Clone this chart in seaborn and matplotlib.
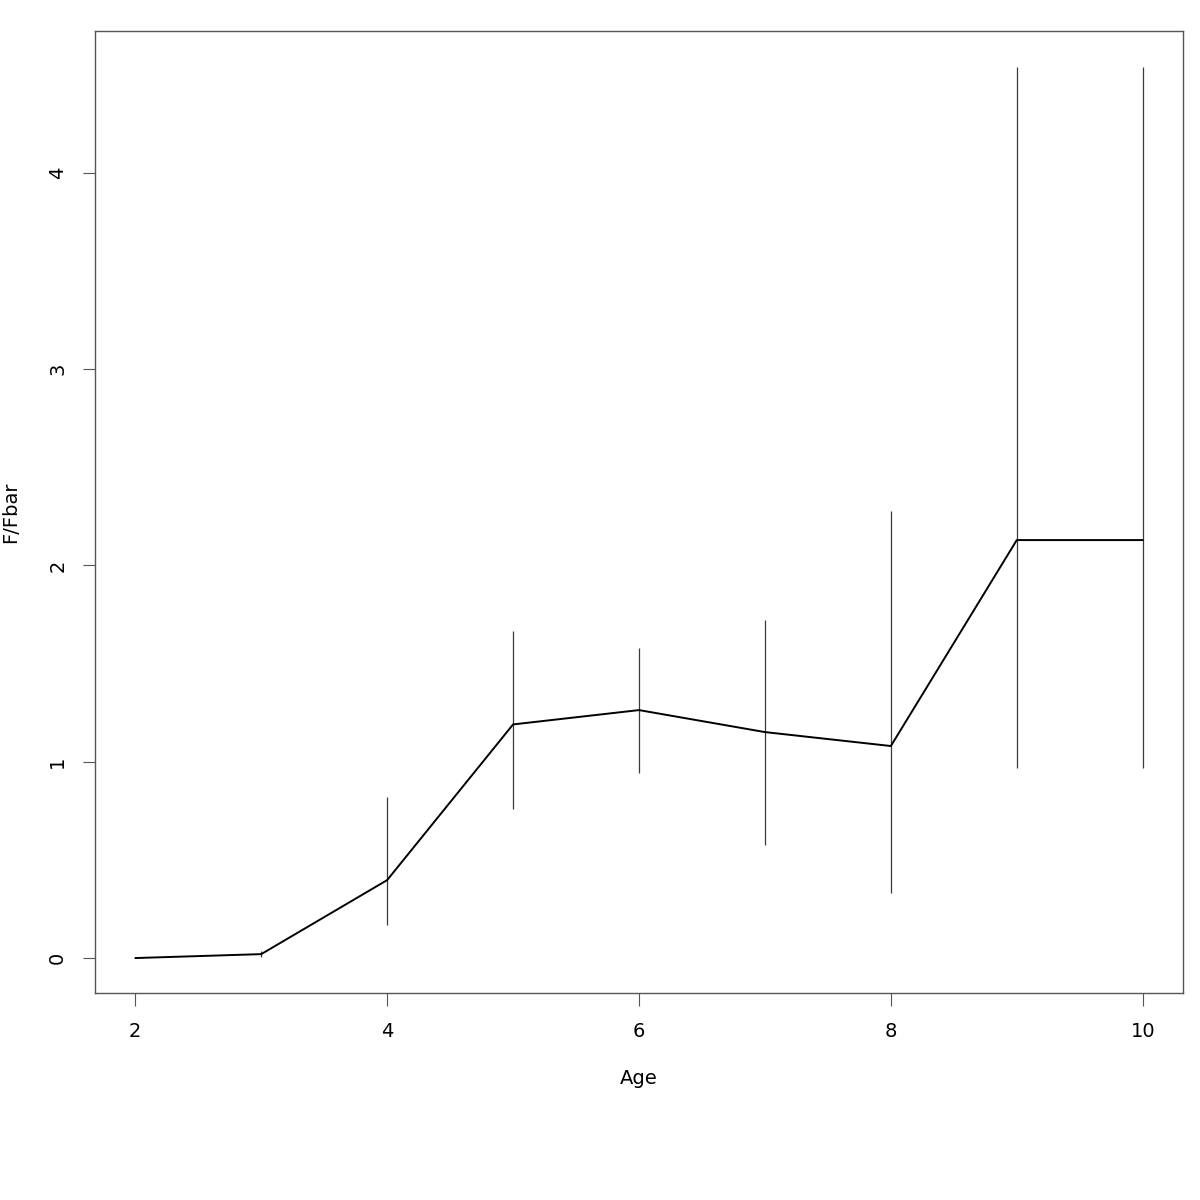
import matplotlib
matplotlib.use("Agg")
import numpy as np
import pandas as pd
import matplotlib.pyplot as plt
import seaborn as sns

# selectivity pattern F/Fbar by age, with interval bounds
ages    = [2, 3, 4, 5, 6, 7, 8, 9, 10]
f_ratio = [0.0, 0.02, 0.397, 1.19, 1.263, 1.151, 1.08, 2.129, 2.129]
lower   = [0.0, 0.005, 0.17, 0.759, 0.942, 0.576, 0.331, 0.968, 0.968]
upper   = [0.0, 0.035, 0.82, 1.666, 1.579, 1.722, 2.277, 4.539, 4.539]

df = pd.DataFrame({"Age": ages, "F/Fbar": f_ratio, "lo": lower, "hi": upper})

sns.set_style("white")
plt.rcParams['font.family'] = ['DejaVu Sans']
plt.rcParams['text.color'] = 'black'
plt.rcParams['axes.labelcolor'] = 'black'

fig = plt.figure(figsize=(12, 12), dpi=100)
ax = fig.add_axes([95/1200, 207/1200, 1088/1200, 962/1200])

# error bars (thin grey, no caps)
ax.vlines(df["Age"], df["lo"], df["hi"], color="#3a3a3a", lw=0.9)
sns.lineplot(data=df, x="Age", y="F/Fbar", color="black", lw=1.4, ax=ax)

ax.set_xlim(1.68, 10.32)
ax.set_ylim(-0.178, 4.722)
ax.set_xticks([2, 4, 6, 8, 10])
ax.set_yticks([0, 1, 2, 3, 4])
ax.set_yticklabels(["0", "1", "2", "3", "4"], rotation=90, va="center")

for s in ax.spines.values():
    s.set_color("#555555")
    s.set_linewidth(1.0)
    s.set_visible(True)

ax.tick_params(axis="both", which="major", bottom=True, left=True,
               direction="out", length=9, width=0.8,
               color="#555555", labelsize=14, labelcolor="black")
ax.tick_params(axis="x", pad=12)
ax.tick_params(axis="y", pad=11)

ax.set_xlabel("Age", fontsize=14, labelpad=20, color="black")
ax.set_ylabel("F/Fbar", fontsize=14, labelpad=20, color="black")

plt.savefig("out.png", dpi=100)
plt.close()
